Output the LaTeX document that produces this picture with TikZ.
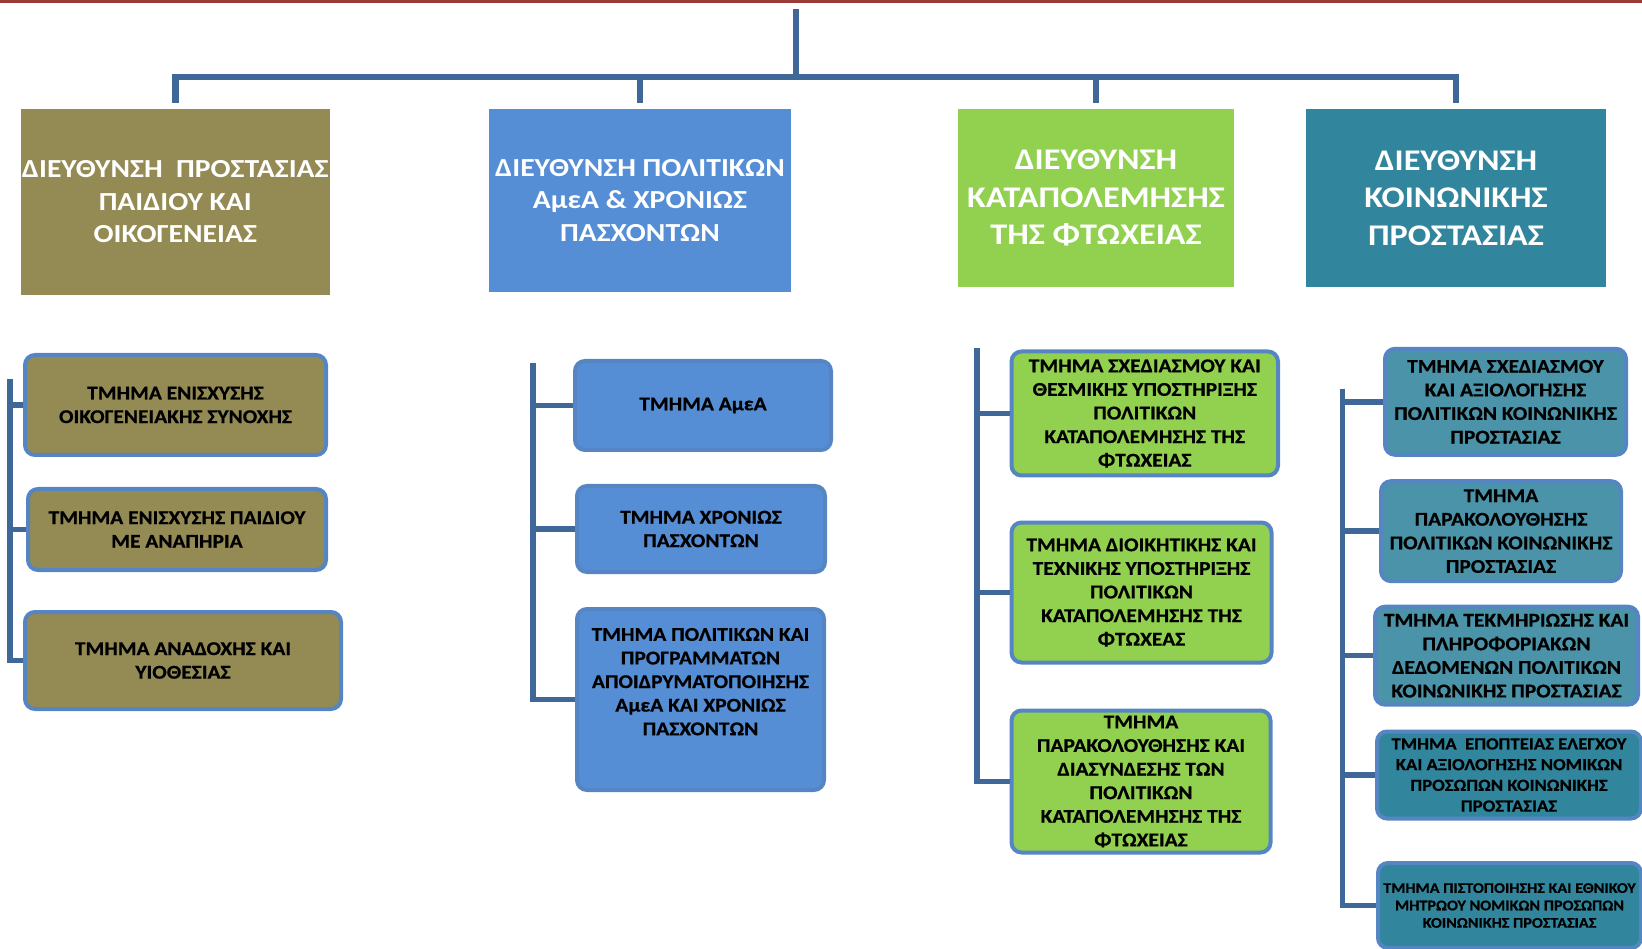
\documentclass[tikz,border=0pt]{standalone}
\usepackage{fontspec}
\setmainfont{Carlito}
\newfontfamily\headfont[FakeStretch=1.14]{Carlito}
\newfontfamily\unitfont[FakeStretch=1.10, FakeBold=0.6]{Carlito}
\usetikzlibrary{positioning}

\definecolor{olivebox}{HTML}{948A54}
\definecolor{bluebox}{HTML}{558ED5}
\definecolor{greenbox}{HTML}{92D050}
\definecolor{tealbox}{HTML}{31859C}
\definecolor{lighttealbox}{HTML}{4A93A8}
\definecolor{edgeblue}{HTML}{5585C3}
\definecolor{linkblue}{HTML}{3F6898}
\definecolor{topred}{HTML}{9B3B38}

\tikzset{
	head/.style={rectangle, inner sep=0pt, text=white, align=center,
		font=\headfont\bfseries\fontsize{26}{32.5}\selectfont},
	bighead/.style={head, font=\headfont\bfseries\fontsize{30}{37.5}\selectfont},
	unit/.style={rectangle, rounded corners=10pt, draw=edgeblue, line width=4pt,
		inner sep=0pt, align=center, font=\unitfont\bfseries\fontsize{19.5}{23.6}\selectfont},
	unittext/.style={inner sep=0pt, align=center, font=\unitfont\bfseries\fontsize{19.5}{23.6}\selectfont},
	link/.style={draw=linkblue, line width=6.5pt},
	twig/.style={draw=linkblue, line width=5.5pt}
}

\begin{document}
\begin{tikzpicture}[x=1pt, y=-1pt]
	\useasboundingbox (0,0) rectangle (1642,949);
	\fill[topred] (0,0) rectangle (1642,3.3);
	
	% directorates
	\node[head, fill=olivebox, minimum width=309pt, minimum height=186pt] (dpp) at (175.25,202) {ΔΙΕΥΘΥΝΣΗ\ \ ΠΡΟΣΤΑΣΙΑΣ\\ΠΑΙΔΙΟΥ ΚΑΙ\\ΟΙΚΟΓΕΝΕΙΑΣ};
	\node[head, fill=bluebox, minimum width=302pt, minimum height=183pt] (dpa) at (640,200.5) {ΔΙΕΥΘΥΝΣΗ ΠΟΛΙΤΙΚΩΝ\\ΑμεΑ \& ΧΡΟΝΙΩΣ\\ΠΑΣΧΟΝΤΩΝ};
	\node[bighead, fill=greenbox, minimum width=276pt, minimum height=178pt] (dkf) at (1096,198) {ΔΙΕΥΘΥΝΣΗ\\ΚΑΤΑΠΟΛΕΜΗΣΗΣ\\ΤΗΣ ΦΤΩΧΕΙΑΣ};
	\node[bighead, fill=tealbox, minimum width=300pt, minimum height=178pt] (dkp) at (1456,198) {ΔΙΕΥΘΥΝΣΗ\\ΚΟΙΝΩΝΙΚΗΣ\\ΠΡΟΣΤΑΣΙΑΣ};
	
	\coordinate (root) at (796,9);
	\coordinate (bar) at (796,77);
	\draw[link] (root) -- (bar);
	\foreach \d in {dpp,dpa,dkf,dkp}
		\draw[link, shorten <=6pt] (\d.north) |- (bar);
	
	% child protection
	\node[unit, fill=olivebox, minimum width=301pt, minimum height=100pt] (u11) at (175.5,405) {ΤΜΗΜΑ ΕΝΙΣΧΥΣΗΣ\\ΟΙΚΟΓΕΝΕΙΑΚΗΣ ΣΥΝΟΧΗΣ};
	\node[unit, fill=olivebox, minimum width=298pt, minimum height=81pt] (u12) at (177,529.5) {ΤΜΗΜΑ ΕΝΙΣΧΥΣΗΣ ΠΑΙΔΙΟΥ\\ΜΕ ΑΝΑΠΗΡΙΑ};
	\node[unit, fill=olivebox, minimum width=316pt, minimum height=97pt] (u13) at (183,660.5) {ΤΜΗΜΑ ΑΝΑΔΟΧΗΣ ΚΑΙ\\ΥΙΟΘΕΣΙΑΣ};
	\coordinate (c1) at (10,379);
	\foreach \u in {u11,u12,u13}
		\draw[twig] (c1) |- (\u.west);
	
	% disability
	\node[unit, fill=bluebox, minimum width=256pt, minimum height=89pt] (u21) at (703,405.5) {ΤΜΗΜΑ ΑμεΑ};
	\node[unit, fill=bluebox, minimum width=248pt, minimum height=86pt] (u22) at (701,529) {ΤΜΗΜΑ ΧΡΟΝΙΩΣ\\ΠΑΣΧΟΝΤΩΝ};
	\node[unit, fill=bluebox, minimum width=247pt, minimum height=181pt] (u23) at (700.5,699.5) {};
	\node[unittext] (u23t) at ([yshift=17.8pt]u23.center) {ΤΜΗΜΑ ΠΟΛΙΤΙΚΩΝ ΚΑΙ\\ΠΡΟΓΡΑΜΜΑΤΩΝ\\ΑΠΟΙΔΡΥΜΑΤΟΠΟΙΗΣΗΣ\\ΑμεΑ ΚΑΙ ΧΡΟΝΙΩΣ\\ΠΑΣΧΟΝΤΩΝ};
	\coordinate (c2) at (533,363);
	\foreach \u in {u21,u22,u23}
		\draw[twig] (c2) |- (\u.west);
	
	% poverty
	\node[unit, fill=greenbox, minimum width=266.5pt, minimum height=124pt] (u31) at (1144.75,413.5) {ΤΜΗΜΑ ΣΧΕΔΙΑΣΜΟΥ ΚΑΙ\\ΘΕΣΜΙΚΗΣ ΥΠΟΣΤΗΡΙΞΗΣ\\ΠΟΛΙΤΙΚΩΝ\\ΚΑΤΑΠΟΛΕΜΗΣΗΣ ΤΗΣ\\ΦΤΩΧΕΙΑΣ};
	\node[unit, fill=greenbox, minimum width=260pt, minimum height=140pt] (u32) at (1141.5,592.5) {ΤΜΗΜΑ ΔΙΟΙΚΗΤΙΚΗΣ ΚΑΙ\\ΤΕΧΝΙΚΗΣ ΥΠΟΣΤΗΡΙΞΗΣ\\ΠΟΛΙΤΙΚΩΝ\\ΚΑΤΑΠΟΛΕΜΗΣΗΣ ΤΗΣ\\ΦΤΩΧΕΑΣ};
	\node[unit, fill=greenbox, minimum width=259pt, minimum height=142pt] (u33) at (1141,781.5) {};
	\node[unittext] (u33t) at (u33.center) {ΤΜΗΜΑ\\ΠΑΡΑΚΟΛΟΥΘΗΣΗΣ ΚΑΙ\\ΔΙΑΣΥΝΔΕΣΗΣ ΤΩΝ\\ΠΟΛΙΤΙΚΩΝ\\ΚΑΤΑΠΟΛΕΜΗΣΗΣ ΤΗΣ\\ΦΤΩΧΕΙΑΣ};
	\coordinate (c3) at (977,348.5);
	\foreach \u in {u31,u32,u33}
		\draw[twig] (c3) |- (\u.west);
	
	% social protection
	\node[unit, fill=lighttealbox, minimum width=241pt, minimum height=106pt] (u41) at (1505.5,401.8) {ΤΜΗΜΑ ΣΧΕΔΙΑΣΜΟΥ\\ΚΑΙ ΑΞΙΟΛΟΓΗΣΗΣ\\ΠΟΛΙΤΙΚΩΝ ΚΟΙΝΩΝΙΚΗΣ\\ΠΡΟΣΤΑΣΙΑΣ};
	\node[unit, fill=lighttealbox, minimum width=240pt, minimum height=100pt] (u42) at (1501,531.2) {ΤΜΗΜΑ\\ΠΑΡΑΚΟΛΟΥΘΗΣΗΣ\\ΠΟΛΙΤΙΚΩΝ ΚΟΙΝΩΝΙΚΗΣ\\ΠΡΟΣΤΑΣΙΑΣ};
	\node[unit, fill=lighttealbox, minimum width=263pt, minimum height=98pt] (u43) at (1506.5,655.7) {ΤΜΗΜΑ ΤΕΚΜΗΡΙΩΣΗΣ ΚΑΙ\\ΠΛΗΡΟΦΟΡΙΑΚΩΝ\\ΔΕΔΟΜΕΝΩΝ ΠΟΛΙΤΙΚΩΝ\\ΚΟΙΝΩΝΙΚΗΣ ΠΡΟΣΤΑΣΙΑΣ};
	\node[unit, fill=tealbox, minimum width=264pt, minimum height=87pt, font=\unitfont\bfseries\fontsize{17}{20.7}\selectfont] (u44) at (1509,775) {ΤΜΗΜΑ\ \ ΕΠΟΠΤΕΙΑΣ ΕΛΕΓΧΟΥ\\ΚΑΙ ΑΞΙΟΛΟΓΗΣΗΣ ΝΟΜΙΚΩΝ\\ΠΡΟΣΩΠΩΝ ΚΟΙΝΩΝΙΚΗΣ\\ΠΡΟΣΤΑΣΙΑΣ};
	\node[unit, fill=tealbox, minimum width=263pt, minimum height=85pt, font=\unitfont\bfseries\fontsize{14.7}{17.4}\selectfont] (u45) at (1509.5,905.5) {ΤΜΗΜΑ ΠΙΣΤΟΠΟΙΗΣΗΣ ΚΑΙ ΕΘΝΙΚΟΥ\\ΜΗΤΡΩΟΥ ΝΟΜΙΚΩΝ ΠΡΟΣΩΠΩΝ\\ΚΟΙΝΩΝΙΚΗΣ ΠΡΟΣΤΑΣΙΑΣ};
	\coordinate (c4) at (1342.5,389);
	\foreach \u in {u41,u42,u43,u44,u45}
		\draw[twig] (c4) |- (\u.west);
\end{tikzpicture}
\end{document}
